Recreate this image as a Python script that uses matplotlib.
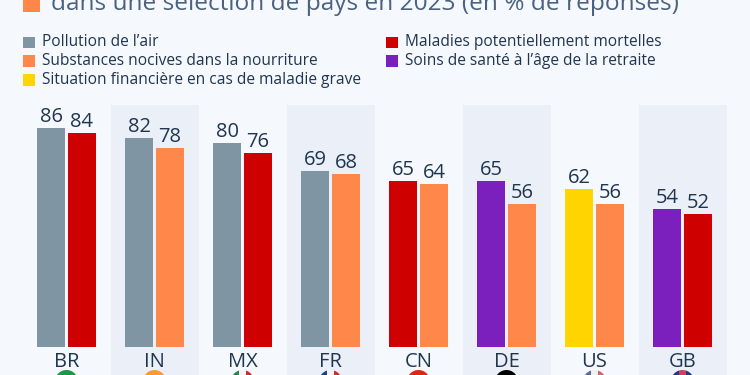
import matplotlib
matplotlib.use('Agg')
import matplotlib.pyplot as plt
from matplotlib.patches import Circle, Rectangle

# data
countries = ['BR', 'IN', 'MX', 'FR', 'CN', 'DE', 'US', 'GB']
first_values = [86, 82, 80, 69, 65, 65, 62, 54]
second_values = [84, 78, 76, 68, 64, 56, 56, 52]
first_topics = ['air', 'air', 'air', 'air', 'death', 'care', 'money', 'care']
second_topics = ['death', 'food', 'death', 'food', 'food', 'food', 'food', 'death']

topic_colors = {'air': '#7f95a3', 'food': '#ff8749', 'death': '#cf0000',
                'care': '#7b1fbd', 'money': '#ffd500'}
legend_left = [('air', "Pollution de l\u2019air"),
               ('food', 'Substances nocives dans la nourriture'),
               ('money', 'Situation financi\u00e8re en cas de maladie grave')]
legend_right = [('death', 'Maladies potentiellement mortelles'),
                ('care', 'Soins de sant\u00e9 \u00e0 l\u2019\u00e2ge de la retraite')]
title = 'dans une s\u00e9lection de pays en 2023 (en % de r\u00e9ponses)'

text_dark = '#1f3550'
text_title = '#4a6280'
bg = '#f5f8fc'
band = '#ebf0f8'

plt.rcParams['font.family'] = ['Open Sans', 'DejaVu Sans']

fig = plt.figure(figsize=(7.5, 3.75), dpi=100, facecolor=bg)

# pixel layer for the title, legend and flags (y counted from the top)
px = fig.add_axes([0, 0, 1, 1], zorder=3)
px.set_xlim(0, 750)
px.set_ylim(375, 0)
px.axis('off')

# bars
ax = fig.add_axes([0, 0, 1, 1], zorder=2)
ax.patch.set_alpha(0)
ax.set_xlim(-66.5 / 88, (750 - 66.5) / 88)
ax.set_ylim(-28.5 / 2.54, 346.5 / 2.54)
ax.axis('off')

for i, c in enumerate(countries):
    if i % 2 == 1:
        ax.axvspan(i - 0.5, i + 0.5, ymin=0, ymax=1 - 105 / 375, color=band, lw=0, zorder=0)
    ax.bar(i - 0.176, first_values[i], 0.318, color=topic_colors[first_topics[i]], zorder=2)
    ax.bar(i + 0.176, second_values[i], 0.318, color=topic_colors[second_topics[i]], zorder=2)
    ax.text(i - 0.176, first_values[i] + 0.5, str(first_values[i]), ha='center', va='bottom',
            fontsize=14.5, color=text_dark, fontweight='medium')
    ax.text(i + 0.176, second_values[i] + 0.5, str(second_values[i]), ha='center', va='bottom',
            fontsize=14.5, color=text_dark, fontweight='medium')
    ax.text(i, -2.2, c, ha='center', va='top', fontsize=14.5, color=text_dark)

# title
px.add_patch(Rectangle((23, -6), 17, 18, color='#ff8749', lw=0))
px.text(51, 3.5, title, fontsize=17.55, color=text_title, va='center', ha='left')

# legend
for j, (k, label) in enumerate(legend_left):
    y = 42 + j * 18.9
    px.add_patch(Rectangle((23, y - 5.5), 11.5, 11.5, color=topic_colors[k], lw=0))
    px.text(41.5, y, label, fontsize=11.2, color=text_dark, va='center', ha='left')
for j, (k, label) in enumerate(legend_right):
    y = 42 + j * 18.9
    px.add_patch(Rectangle((386, y - 5.5), 11.5, 11.5, color=topic_colors[k], lw=0))
    px.text(405, y, label, fontsize=11.2, color=text_dark, va='center', ha='left')

# flags, only their top edge shows
flag_y = 381.5
flag_r = 11.5
flag_x = [66.5 + 88 * i for i in range(8)]
flag_parts = {
    'BR': ['#1a9a45'],
    'IN': ['#ff9a33'],
    'MX': ['#1f8a50', '#f4f4f4', '#cf2a2a'],
    'FR': ['#1f3f8f', '#f4f4f4', '#d62b2b'],
    'CN': ['#de2910'],
    'DE': ['#000000'],
    'US': ['#5a6a9a', '#f0f0f0', '#d9606a'],
    'GB': ['#1f3a80', '#d04060', '#1f3a80'],
}
for c, x in zip(countries, flag_x):
    clip = Circle((x, flag_y), flag_r, transform=px.transData)
    parts = flag_parts[c]
    w = 2 * flag_r / len(parts)
    for n, col in enumerate(parts):
        r = px.add_patch(Rectangle((x - flag_r + n * w, flag_y - flag_r), w, 2 * flag_r,
                                   color=col, lw=0))
        r.set_clip_path(clip)

fig.savefig('out.png', dpi=100, facecolor=bg)
